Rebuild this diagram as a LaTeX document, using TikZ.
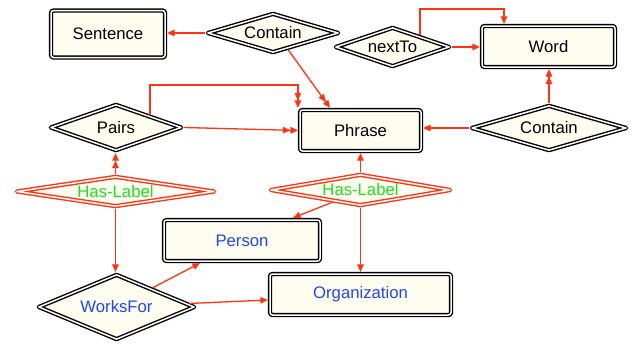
\documentclass[tikz,border=0pt]{standalone}
\usepackage{fontspec}
\setmainfont{Liberation Sans}
\usetikzlibrary{shapes.geometric,arrows.meta,calc}
\definecolor{arrred}{RGB}{255,51,17}
\definecolor{ivory}{RGB}{253,253,240}
\definecolor{lblgreen}{RGB}{34,221,34}
\definecolor{entblue}{RGB}{34,68,255}
\tikzset{
 base/.style={font=\fontsize{16.7}{19}\selectfont, fill=ivory, line width=1.4pt, double=white, double distance=1.5pt, outer sep=2.1pt, inner sep=0pt, line join=round},
 ent/.style={base, rectangle, draw=black, rounded corners=2.5pt},
 rel/.style={base, diamond, draw=black},
 lbl/.style={base, diamond, draw=arrred, text=lblgreen},
 conn/.style={draw=arrred, line width=1.3pt, -{Triangle[length=7.5pt,width=6.5pt]}},
 conn2/.style={draw=arrred, line width=1.3pt, -{Triangle[length=7.5pt,width=6.5pt] Triangle[length=7.5pt,width=6.5pt]}},
}
\begin{document}
\begin{tikzpicture}[x=1pt,y=-1pt]
\useasboundingbox (0,0) rectangle (636,343);
% entities
\node[ent, minimum width=114pt, minimum height=47pt] (Sentence) at (108,34) {Sentence};
\node[ent, minimum width=133pt, minimum height=41pt] (Word) at (548.5,46.5) {Word};
\node[ent, minimum width=121pt, minimum height=41pt] (Phrase) at (360.5,130.5) {Phrase};
\node[ent, text=entblue, minimum width=156pt, minimum height=41pt] (Person) at (242,240.5) {Person};
\node[ent, text=entblue, minimum width=181pt, minimum height=41pt] (Org) at (360.5,294.5) {Organization};
% relations
\node[rel, minimum width=132pt, minimum height=40pt, aspect=3.3] (ContainA) at (273,33) {Contain};
\node[rel, minimum width=115pt, minimum height=40pt, aspect=2.875] (nextTo) at (392.5,47) {nextTo};
\node[rel, minimum width=156pt, minimum height=46pt, aspect=3.39] (ContainB) at (549,128) {Contain};
\node[rel, minimum width=132pt, minimum height=47pt, aspect=2.81] (Pairs) at (116,127.5) {Pairs};
\node[lbl, minimum width=199pt, minimum height=31pt, aspect=6.42] (HasL) at (115.5,191.5) {Has-Label};
\node[lbl, minimum width=181pt, minimum height=32pt, aspect=5.66] (HasR) at (360.5,190) {Has-Label};
\node[rel, text=entblue, minimum width=157pt, minimum height=66pt, aspect=2.38] (WorksFor) at (116.5,307) {WorksFor};
% connectors
\draw[conn] (ContainA.west) -- (ContainA.west -| Sentence.east);
\draw[conn2] (ContainA.-48) -- ([xshift=-30.5pt]Phrase.north);
\draw[conn] (nextTo.east) -- (nextTo.east -| Word.west);
\coordinate (nt) at ($(nextTo.north)!0.46!(nextTo.east)$);
\draw[conn] (nt) |- ([xshift=-44.5pt,yshift=15pt]Word.north) -- ([xshift=-44.5pt]Word.north);
\draw[conn2] (ContainB.north) -- (ContainB.north |- Word.south);
\draw[conn] (ContainB.west) -- (ContainB.west -| Phrase.east);
\draw[conn2] (Pairs.east) -- (Phrase.west);
\coordinate (ps) at ($(Pairs.north)!0.5!(Pairs.east)$);
\draw[conn2] (ps) |- ([yshift=23pt]Phrase.north west) -- (Phrase.north west);
\draw[conn2] (HasL.north) -- (HasL.north |- Pairs.south);
\draw[conn] (HasL.south) -- (HasL.south |- WorksFor.north);
\draw[conn] ($(WorksFor.north)!0.45!(WorksFor.east)$) -- ([xshift=-42pt]Person.south);
\draw[conn] ($(WorksFor.north)!0.9!(WorksFor.east)$) -- ([yshift=-5.5pt]Org.west);
\draw[conn] (HasR.north) -- (Phrase.south);
\draw[conn] ($(HasR.south)!0.31!(HasR.west)$) -- ([xshift=51pt]Person.north);
\draw[conn] (HasR.south) -- (Org.north);
\end{tikzpicture}
\end{document}
